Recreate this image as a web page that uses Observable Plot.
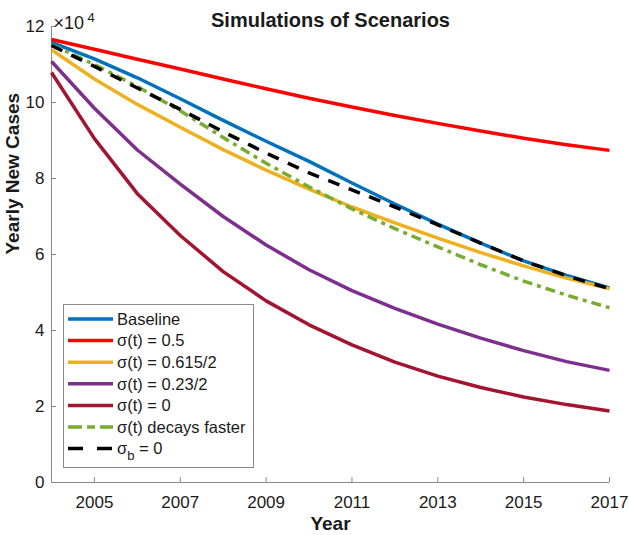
<!DOCTYPE html>
<html><head><meta charset="utf-8">
<script src="https://cdn.jsdelivr.net/npm/d3@7"></script>
<script src="https://cdn.jsdelivr.net/npm/@observablehq/plot@0.6"></script>
<style>body{margin:0;background:#fff} #chart{width:629px;height:535px}</style>
</head><body><div id="chart"></div>
<script>
// ---- data (values in units of 10^4) ----
const years = [2004, 2005, 2006, 2007, 2008, 2009, 2010, 2011, 2012, 2013, 2014, 2015, 2016, 2017];
const baseline   = [11.58, 11.15, 10.65, 10.10, 9.53, 8.98, 8.45, 7.88, 7.33, 6.80, 6.30, 5.83, 5.45, 5.12];
const sigma05    = [11.66, 11.40, 11.14, 10.88, 10.62, 10.36, 10.11, 9.88, 9.66, 9.45, 9.25, 9.06, 8.89, 8.74];
const sigma0615  = [11.39, 10.62, 9.95, 9.35, 8.76, 8.22, 7.72, 7.25, 6.83, 6.43, 6.05, 5.70, 5.38, 5.10];
const sigma023   = [11.08, 9.85, 8.75, 7.85, 7.00, 6.25, 5.60, 5.05, 4.58, 4.17, 3.80, 3.47, 3.18, 2.95];
const sigma0     = [10.79, 9.05, 7.60, 6.50, 5.55, 4.78, 4.15, 3.62, 3.17, 2.80, 2.50, 2.25, 2.05, 1.88];
const fasterDecay= [11.52, 11.00, 10.42, 9.78, 9.08, 8.40, 7.78, 7.20, 6.68, 6.20, 5.73, 5.30, 4.93, 4.60];
const sigmaB0    = [11.50, 10.95, 10.38, 9.82, 9.23, 8.67, 8.15, 7.70, 7.25, 6.78, 6.30, 5.83, 5.44, 5.10];

const seriesNames  = ["Baseline", "σ(t) = 0.5", "σ(t) = 0.615/2", "σ(t) = 0.23/2", "σ(t) = 0", "σ(t) decays faster", "σb = 0"];
const seriesValues = [baseline, sigma05, sigma0615, sigma023, sigma0, fasterDecay, sigmaB0];
const seriesColors = ["#0072BD", "#FF0000", "#EDB120", "#7E2F8E", "#A2142F", "#77AC30", "#000000"];
const seriesDash   = [null, null, null, null, null, "10,5,4,5", "12,10"];
const legendDash   = [null, null, null, null, null, "14,5,8,5", "15,14"];

const xTicks = [2005, 2007, 2009, 2011, 2013, 2015, 2017];
const yTicks = [0, 2, 4, 6, 8, 10, 12];

const titleText = "Simulations of Scenarios";
const xLabel = "Year";
const yLabel = "Yearly New Cases";

// ---- layout ----
const W = 629, H = 535, ML = 51, MR = 20, MT = 26, MB = 53;
const FW = W - ML - MR, FH = H - MT - MB;
const FONT = "Arial, 'Liberation Sans', Helvetica, sans-serif";
const AXIS = "#8a8a8a";

const rows = seriesNames.flatMap((name, i) =>
  years.map((yr, j) => ({series: name, year: yr, value: seriesValues[i][j]})));

const lineMarks = seriesNames.map((name, i) =>
  Plot.line(rows.filter(d => d.series === name), {
    x: "year", y: "value",
    stroke: seriesColors[i], strokeWidth: 3.5,
    strokeDasharray: seriesDash[i] ?? undefined,
    strokeLinecap: "butt", strokeLinejoin: "round"
  }));

const plot = Plot.plot({
  width: W, height: H,
  marginLeft: ML, marginRight: MR, marginTop: MT, marginBottom: MB,
  style: {fontFamily: FONT, fontSize: "17px", background: "white", overflow: "visible", color: "#1a1a1a"},
  x: {domain: [2004, 2017]},
  y: {domain: [0, 12]},
  marks: [
    Plot.ruleX([2004], {stroke: AXIS, strokeWidth: 1}),
    Plot.ruleY([0], {stroke: AXIS, strokeWidth: 1}),
    Plot.tickY(yTicks, {y: d => d, stroke: AXIS, insetRight: FW - 5}),
    Plot.tickX(xTicks, {x: d => d, stroke: AXIS, insetTop: FH - 5}),
    Plot.axisY({ticks: yTicks, tickSize: 0, tickPadding: 7, label: null, fontSize: 17, tickFormat: d => String(d)}),
    Plot.axisX({ticks: xTicks, tickSize: 0, tickPadding: 13, label: null, fontSize: 17, tickFormat: d => String(d)}),
    ...lineMarks,
    Plot.text([titleText], {frameAnchor: "top", dy: -14, fontWeight: "bold", fontSize: 20}),
    Plot.text(["×10"], {frameAnchor: "top-left", textAnchor: "start", dx: 2, dy: -10, fontSize: 18}),
    Plot.text(["4"], {frameAnchor: "top-left", textAnchor: "start", dx: 36, dy: -14, fontSize: 13}),
    Plot.text([yLabel], {frameAnchor: "left", rotate: -90, dx: -39, fontWeight: "bold", fontSize: 19}),
    Plot.text([xLabel], {frameAnchor: "bottom", lineAnchor: "top", dy: 34, fontWeight: "bold", fontSize: 19})
  ]
});

// ---- legend (MATLAB-style box, lower left) ----
const svg = d3.select(plot);
const lg = svg.append("g").attr("font-family", FONT).attr("font-size", 16.5)
  .attr("fill", "#1a1a1a").attr("text-anchor", "start");
lg.append("rect").attr("x", 63.5).attr("y", 304.5).attr("width", 190).attr("height", 163)
  .attr("fill", "white").attr("stroke", AXIS).attr("stroke-width", 1);
seriesNames.forEach((name, i) => {
  const cy = 319 + i * 21.6;
  lg.append("line").attr("x1", 68).attr("x2", 113).attr("y1", cy).attr("y2", cy)
    .attr("stroke", seriesColors[i]).attr("stroke-width", 3.5)
    .attr("stroke-dasharray", legendDash[i]);
  const t = lg.append("text").attr("x", 117).attr("y", cy).attr("dy", "0.35em")
    .attr("text-anchor", "start");
  if (name === "σb = 0") {
    t.append("tspan").text("σ");
    t.append("tspan").attr("font-size", 13).attr("dy", 6).text("b");
    t.append("tspan").attr("dy", -6).text(" = 0");
  } else {
    t.text(name);
  }
});

document.getElementById("chart").appendChild(plot);
</script>
</body></html>
